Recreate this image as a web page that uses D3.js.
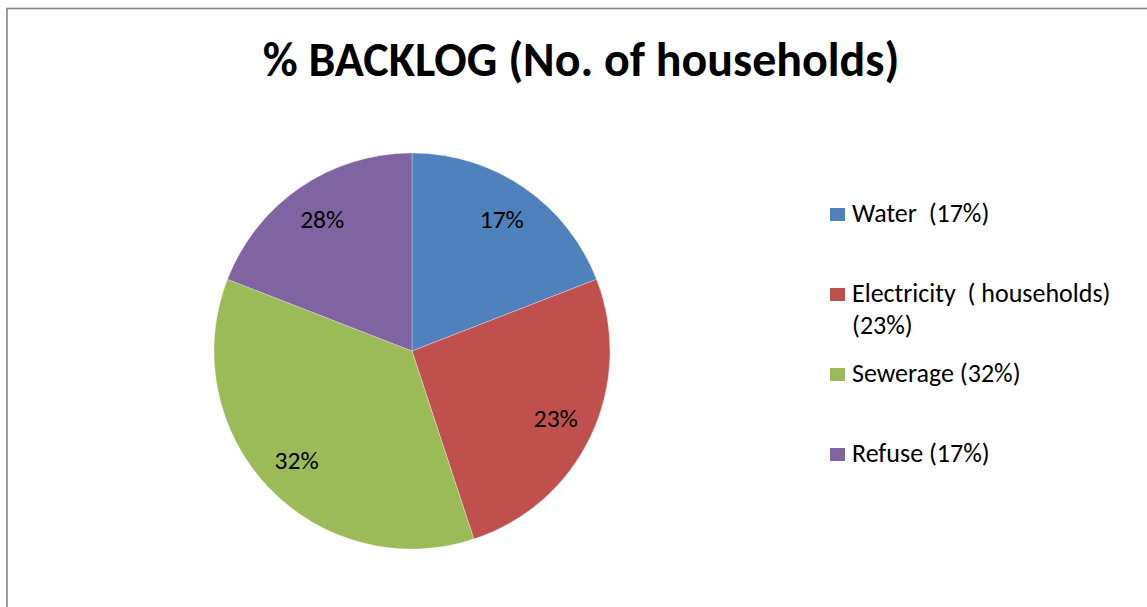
<!DOCTYPE html>
<html>
<head>
<meta charset="utf-8">
<script src="https://cdn.jsdelivr.net/npm/d3@7"></script>
<style>
  html, body { margin: 0; padding: 0; background: #fff; }
  svg { display: block; }
  text { font-family: Carlito, Lato, "Open Sans", sans-serif; }
</style>
</head>
<body>
<svg id="chart" width="1147" height="607"></svg>
<script>
// Backlog share by service
const categories = ["Water", "Electricity", "Sewerage", "Refuse"];
const values = [17, 23, 32, 17];
const sliceLabels = ["17%", "23%", "32%", "28%"];
const legendLabels = [
  ["Water  (17%)"],
  ["Electricity  ( households)", "(23%)"],
  ["Sewerage (32%)"],
  ["Refuse (17%)"]
];
const colors = ["#4F81BD", "#C0504D", "#9BBB59", "#8064A2"];

const W = 1147, H = 607;
const svg = d3.select("#chart");

// chart frame (left and top edges visible)
svg.append("rect")
  .attr("x", 7).attr("y", 8.5)
  .attr("width", W + 10).attr("height", H + 10)
  .attr("fill", "#fff")
  .attr("stroke", "#868686").attr("stroke-width", 1.6);

// title
const title = svg.append("text")
  .attr("x", 581).attr("y", 76)
  .attr("text-anchor", "middle")
  .attr("font-weight", "bold")
  .attr("font-size", 46)
  .attr("fill", "#000")
  .text("% BACKLOG (No. of households)");
const tw = title.node().getComputedTextLength();
title.attr("font-size", 46 * 637 / tw);

// pie
const cx = 412, cy = 351, r = 198, labelR = 159;
const color = d3.scaleOrdinal().domain(categories).range(colors);
const pie = d3.pie().sort(null).value(d => d.value);
const arcs = pie(categories.map((c, i) => ({ name: c, value: values[i], label: sliceLabels[i] })));
const arc = d3.arc().innerRadius(0).outerRadius(r);
const labelArc = d3.arc().innerRadius(labelR).outerRadius(labelR);

const g = svg.append("g").attr("transform", `translate(${cx},${cy})`);
g.selectAll("path.slice")
  .data(arcs)
  .join("path")
  .attr("class", "slice")
  .attr("d", arc)
  .attr("fill", d => color(d.data.name))
  .attr("stroke", "#fff")
  .attr("stroke-opacity", 0.5)
  .attr("stroke-width", 0.6);

g.selectAll("text.lbl")
  .data(arcs)
  .join("text")
  .attr("class", "lbl")
  .attr("transform", d => `translate(${labelArc.centroid(d)})`)
  .attr("text-anchor", "middle")
  .attr("dominant-baseline", "central")
  .attr("font-size", 25.5)
  .attr("fill", "#000")
  .text(d => d.data.label);

// legend
const legendY = [222, 302, 382, 462];
const lg = svg.append("g");
categories.forEach((c, i) => {
  const y = legendY[i];
  lg.append("rect")
    .attr("x", 830).attr("y", y - 14)
    .attr("width", 15).attr("height", 13)
    .attr("fill", color(c));
  legendLabels[i].forEach((line, j) => {
    lg.append("text")
      .attr("x", 852).attr("y", y + j * 32)
      .attr("font-size", 26)
      .attr("fill", "#000")
      .style("white-space", "pre")
      .text(line);
  });
});
</script>
</body>
</html>
